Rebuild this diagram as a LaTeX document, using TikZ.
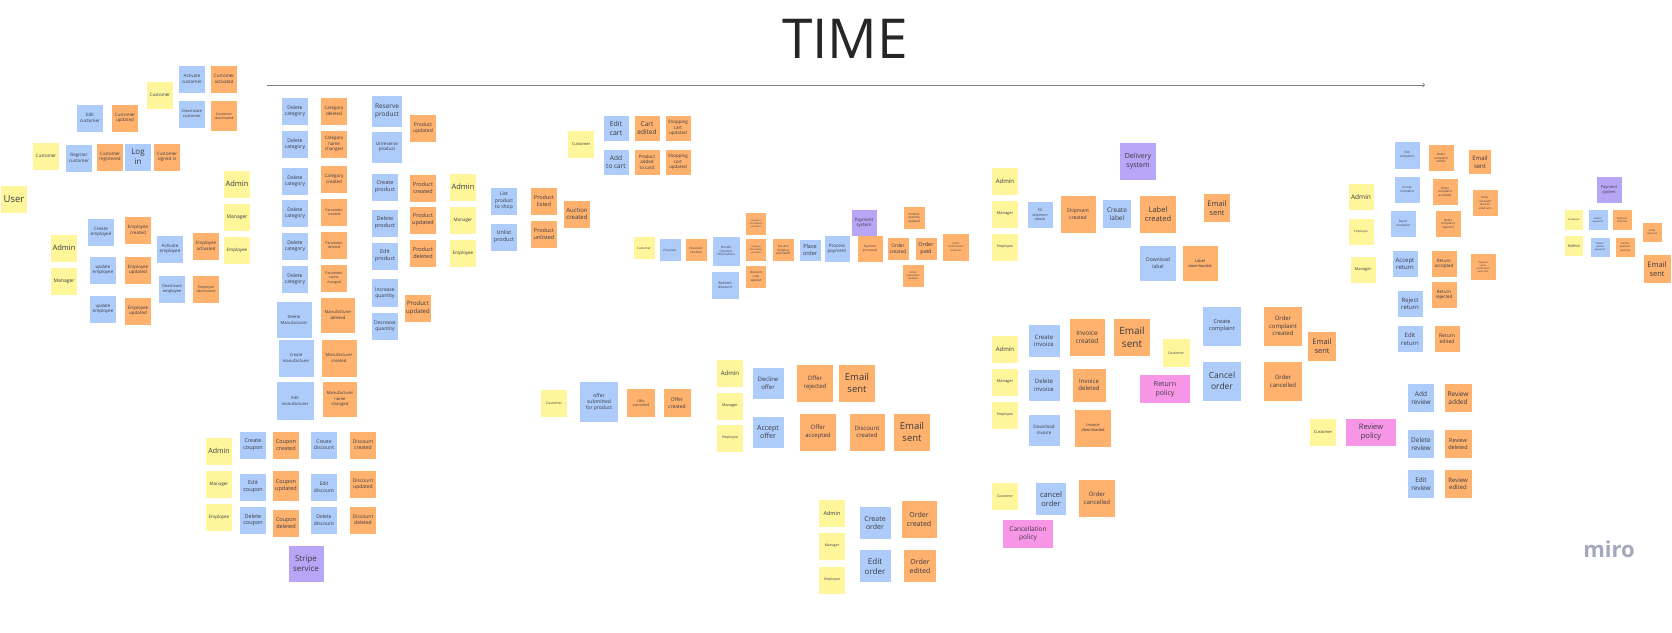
\documentclass[tikz,border=0pt]{standalone}
\usepackage{fontspec}
\setmainfont{Open Sans}
\usepackage{tikz}

\definecolor{noteyellow}{RGB}{255,246,156}
\definecolor{noteblue}{RGB}{174,204,250}
\definecolor{noteorange}{RGB}{255,178,110}
\definecolor{notepurple}{RGB}{182,166,245}
\definecolor{notepink}{RGB}{247,150,230}
\definecolor{noteink}{RGB}{58,58,66}
\definecolor{logogray}{RGB}{164,168,190}

\newcommand{\sz}[1]{\fontsize{#1}{\fpeval{1.25*#1}}\selectfont}

\tikzset{
  sticky/.style={rectangle, minimum width=26pt, minimum height=27pt, inner sep=0.5pt,
    align=center, text=noteink, font=\sz{4.5}},
  wh/.style 2 args={minimum width=#1pt, minimum height=#2pt},
  actor/.style={sticky, fill=noteyellow},
  command/.style={sticky, fill=noteblue},
  event/.style={sticky, fill=noteorange},
  extsystem/.style={sticky, fill=notepurple},
  policy/.style={sticky, fill=notepink},
}

\begin{document}
\begin{tikzpicture}[x=1pt, y=-1pt]
        \useasboundingbox[fill=white] (0,0) rectangle (1672,632);

        \node[text=black!85, font=\sz{55}] (time) at (845,39) {TIME};
        \coordinate (timeStart) at (267,85);
        \coordinate (timeEnd) at (1425,85);
        \draw[->, gray, line width=0.8pt] (timeStart) -- (timeEnd);

        % customers
        \node[actor] (custActorA) at (160,95) {Customer};
        \node[command] (activateCust) at (192,79) {Activate\\customer};
        \node[event] (custActivated) at (224,79) {Customer\\activated};
        \node[command, font=\sz{4}] (deactivateCust) at (192,114) {Deactivate\\customer};
        \node[event, font=\sz{3.5}, wh={26}{30}] (custDeactivated) at (224,116) {Customer\\deactivated};
        \node[command] (editCust) at (90,118) {Edit\\customer};
        \node[event] (custUpdated) at (125,118) {Customer\\updated};
        \node[actor] (custActorB) at (46,156) {Customer};
        \node[command] (registerCust) at (79,158) {Register\\customer};
        \node[event] (custRegistered) at (110,157) {Customer\\registered};
        \node[command, font=\sz{8}] (logIn) at (138,157) {Log\\in};
        \node[event] (custSignedIn) at (167,157) {Customer\\signed in};
        \node[actor, font=\sz{9.5}] (user) at (14,199) {User};

        % employees
        \node[actor, font=\sz{7.5}] (empAdminA) at (237,184) {Admin};
        \node[actor, font=\sz{5}] (empManagerA) at (237,217) {Manager};
        \node[actor] (empEmployeeA) at (237,250) {Employee};
        \node[command] (createEmp) at (101,232) {Create\\employee};
        \node[event] (empCreated) at (138,230) {Employee\\created};
        \node[command] (activateEmp) at (170,249) {Activate\\employee};
        \node[event] (empActivated) at (206,246) {Employee\\activated};
        \node[actor, font=\sz{7.5}] (empAdminB) at (64,248) {Admin};
        \node[actor, font=\sz{5}] (empManagerB) at (64,281) {Manager};
        \node[command] (updateEmpA) at (103,270) {update\\employee};
        \node[event] (empUpdatedA) at (138,270) {Employee\\updated};
        \node[command, font=\sz{4}] (deactivateEmp) at (172,289) {Deactivate\\employee};
        \node[event, font=\sz{3.5}] (empDeactivated) at (206,289) {Employee\\deactivated};
        \node[command] (updateEmpB) at (103,309) {update\\employee};
        \node[event] (empUpdatedB) at (138,311) {Employee\\updated};

        % categories and parameters
        \node[command, font=\sz{5}] (delCatA) at (295,111) {Delete\\category};
        \node[command, font=\sz{5}] (delCatB) at (295,144) {Delete\\category};
        \node[command, font=\sz{5}] (delCatC) at (295,181) {Delete\\category};
        \node[command, font=\sz{5}] (delCatD) at (295,213) {Delete\\category};
        \node[command, font=\sz{5}] (delCatE) at (295,246) {Delete\\category};
        \node[command, font=\sz{5}] (delCatF) at (295,279) {Delete\\category};
        \node[event] (catDeleted) at (334,111) {Category\\deleted};
        \node[event] (catNameChanged) at (334,144) {Category\\name\\changed};
        \node[event] (catCreated) at (334,179) {Category\\created};
        \node[event, font=\sz{3.5}] (paramCreated) at (334,212) {Parameter\\created};
        \node[event, font=\sz{3.5}] (paramDeleted) at (334,245) {Parameter\\deleted};
        \node[event, font=\sz{3.5}] (paramNameChanged) at (334,278) {Parameter\\name\\changed};

        % manufacturers
        \node[command, font=\sz{4.2}, wh={35}{36}] (delManu) at (294,320) {Delete\\Manufacturer};
        \node[event, font=\sz{4.2}, wh={34}{35}] (manuDeleted) at (338,315) {Manufacturer\\deleted};
        \node[command, font=\sz{4.2}, wh={35}{37}] (createManu) at (296,358) {Create\\manufacturer};
        \node[event, font=\sz{4.2}, wh={35}{37}] (manuCreated) at (339,358) {Manufacturer\\created};
        \node[command, font=\sz{4.2}, wh={37}{38}] (editManu) at (295,401) {Edit\\manufacturer};
        \node[event, font=\sz{4.2}, wh={34}{35}] (manuNameChanged) at (340,399) {Manufacturer\\name\\changed};

        % products
        \node[command, font=\sz{6.5}, wh={30}{31}] (reserveProd) at (387,111) {Reserve\\product};
        \node[command, wh={30}{31}] (unreserveProd) at (387,147) {Unreserve\\product};
        \node[event, font=\sz{5}] (prodUpdatedA) at (423,128) {Product\\updated};
        \node[command, font=\sz{5.5}] (createProd) at (385,187) {Create\\product};
        \node[event, font=\sz{5.5}] (prodCreated) at (423,188) {Product\\created};
        \node[command, font=\sz{5.5}] (deleteProd) at (385,223) {Delete\\product};
        \node[event, font=\sz{5.5}] (prodUpdatedB) at (423,220) {Product\\updated};
        \node[command, font=\sz{5.5}] (editProd) at (385,256) {Edit\\product};
        \node[event, font=\sz{5.5}] (prodDeleted) at (423,253) {Product\\deleted};
        \node[command, font=\sz{5}, wh={26}{28}] (increaseQty) at (385,293) {Increase\\quantity};
        \node[event, font=\sz{6}] (prodUpdatedC) at (418,308) {Product\\updated};
        \node[command, font=\sz{5}] (decreaseQty) at (385,326) {Decrease\\quantity};

        % coupons and discounts
        \node[actor, font=\sz{7}] (couponAdmin) at (219,451) {Admin};
        \node[actor] (couponManager) at (219,484) {Manager};
        \node[actor] (couponEmployee) at (219,517) {Employee};
        \node[command, font=\sz{5.5}] (createCoupon) at (253,445) {Create\\coupon};
        \node[event, font=\sz{5.5}] (couponCreated) at (286,445) {Coupon\\created};
        \node[command, font=\sz{5.5}] (editCoupon) at (253,487) {Edit\\coupon};
        \node[event, font=\sz{5.5}, wh={26}{30}] (couponUpdated) at (286,486) {Coupon\\updated};
        \node[command, font=\sz{5.5}] (deleteCoupon) at (253,520) {Delete\\coupon};
        \node[event, font=\sz{5.5}] (couponDeleted) at (286,523) {Coupon\\deleted};
        \node[command, font=\sz{5}] (createDiscount) at (324,445) {Create\\discount};
        \node[event, font=\sz{5}] (discountCreated) at (363,445) {Discount\\created};
        \node[command, font=\sz{5}] (editDiscount) at (324,487) {Edit\\discount};
        \node[event, font=\sz{5}] (discountUpdated) at (363,484) {Discount\\updated};
        \node[command, font=\sz{5}] (deleteDiscount) at (324,520) {Delete\\discount};
        \node[event, font=\sz{5}] (discountDeleted) at (363,520) {Discount\\deleted};
        \node[extsystem, font=\sz{8}, wh={35}{36}] (stripe) at (306,564) {Stripe\\service};

        % shop listing
        \node[actor, font=\sz{7.5}] (shopAdmin) at (463,187) {Admin};
        \node[actor] (shopManager) at (463,220) {Manager};
        \node[actor] (shopEmployee) at (463,253) {Employee};
        \node[command, font=\sz{5}] (listProd) at (504,201) {List\\product\\to shop};
        \node[command, font=\sz{5.5}] (unlistProd) at (504,237) {Unlist\\product};
        \node[event, font=\sz{5.5}] (prodListed) at (544,201) {Product\\listed};
        \node[event, font=\sz{5.5}] (prodUnlisted) at (544,234) {Product\\unlisted};
        \node[event, font=\sz{6}] (auctionCreated) at (577,214) {Auction\\created};

        % cart
        \node[actor, font=\sz{4}] (cartCustomer) at (581,144) {Customer};
        \node[command, font=\sz{7}, wh={25}{25}] (editCart) at (616,128) {Edit\\cart};
        \node[command, font=\sz{6.5}, wh={25}{25}] (addToCart) at (616,162) {Add\\to cart};
        \node[event, font=\sz{6.5}, wh={25}{25}] (cartEdited) at (647,128) {Cart\\edited};
        \node[event, wh={25}{25}] (prodAddedToCard) at (647,162) {Product\\added\\to card};
        \node[event, wh={25}{25}] (cartUpdatedA) at (678,128) {Shopping\\cart\\updated};
        \node[event, wh={25}{25}] (cartUpdatedB) at (678,162) {Shopping\\cart\\updated};

        % checkout and payment
        \node[actor, font=\sz{3}, wh={21}{22}] (checkoutCustomer) at (644,248) {Customer};
        \node[command, font=\sz{3}, wh={21}{22}] (checkout) at (670,250) {Checkout};
        \node[event, font=\sz{3}, wh={21}{22}] (checkoutSelected) at (696,250) {Checkout\\selected};
        \node[command, font=\sz{3}, wh={27}{29}] (provideInfo) at (726,251) {Provide\\checkout\\informations};
        \node[command, font=\sz{3.5}, wh={27}{27}] (redeemDiscount) at (725,285) {Redeem\\discount};
        \node[event, font=\sz{2.3}, wh={20}{22}] (paymentInfo) at (756,224) {Payment\\information\\provided};
        \node[event, font=\sz{2.3}, wh={20}{22}] (shippingInfo) at (756,250) {Shipping\\information\\provided};
        \node[event, font=\sz{3}, wh={20}{22}] (codeApplied) at (756,277) {Discount\\code\\applied};
        \node[event, font=\sz{3}, wh={21}{22}] (taxCalculated) at (783,250) {Tax and\\shipping\\calculated};
        \node[command, font=\sz{5.5}, wh={21}{21}] (placeOrder) at (810,250) {Place\\order};
        \node[command, wh={25}{26}] (processPayment) at (837,249) {Process\\payment};
        \node[extsystem, wh={25}{26}] (paymentSystemA) at (864,223) {Payment\\system};
        \node[event, font=\sz{3}, wh={25}{26}] (paymentProcessed) at (870,249) {Payment\\processed};
        \node[event, font=\sz{4.8}, wh={21}{22}] (orderCreatedA) at (898,249) {Order\\created};
        \node[event, font=\sz{5.5}, wh={21}{22}] (orderPaid) at (926,249) {Order\\paid};
        \node[event, font=\sz{3}, wh={21}{22}] (qtyUpdated) at (914,218) {Product\\quantity\\updated};
        \node[event, font=\sz{2.5}, wh={21}{22}] (orderReserved) at (913,276) {Order\\reservation\\updated};
        \node[event, font=\sz{2.5}] (confirmMail) at (956,247) {Order\\confirmation\\mail sent};

        % offers
        \node[actor, font=\sz{3.5}] (offerCustomer) at (554,403) {Customer};
        \node[command, font=\sz{5}, wh={38}{40}] (submitOffer) at (599,402) {offer\\submitted\\for product};
        \node[event, font=\sz{3.5}, wh={28}{28}] (offeSubmitted) at (641,403) {Offe\\submitted};
        \node[event, font=\sz{5}, wh={27}{28}] (offerCreated) at (677,403) {Offer\\created};
        \node[actor, font=\sz{6}] (offerAdmin) at (730,373) {Admin};
        \node[actor, font=\sz{3.8}] (offerManager) at (730,406) {Manager};
        \node[actor, font=\sz{3.5}] (offerEmployee) at (730,438) {Employee};
        \node[command, font=\sz{6}, wh={31}{31}] (declineOffer) at (768,383) {Decline\\offer};
        \node[event, font=\sz{6}, wh={36}{37}] (offerRejected) at (815,383) {Offer\\rejected};
        \node[event, font=\sz{9.5}, wh={36}{37}] (offerMailA) at (857,383) {Email\\sent};
        \node[command, font=\sz{7}, wh={31}{31}] (acceptOffer) at (768,432) {Accept\\offer};
        \node[event, font=\sz{6}, wh={36}{37}] (offerAccepted) at (818,432) {Offer\\accepted};
        \node[event, font=\sz{6}, wh={35}{37}] (offerDiscount) at (867,432) {Discount\\created};
        \node[event, font=\sz{9.5}, wh={36}{37}] (offerMailB) at (912,432) {Email\\sent};

        % orders by staff
        \node[actor, font=\sz{5.5}] (orderAdmin) at (832,513) {Admin};
        \node[actor, font=\sz{3.5}] (orderManager) at (832,546) {Manager};
        \node[actor, font=\sz{3.5}] (orderEmployee) at (832,580) {Employee};
        \node[command, font=\sz{7}, wh={31}{32}] (createOrder) at (875,523) {Create\\order};
        \node[event, font=\sz{7}, wh={35}{37}] (orderCreatedB) at (919,519) {Order\\created};
        \node[command, font=\sz{8}, wh={31}{32}] (editOrder) at (875,566) {Edit\\order};
        \node[event, font=\sz{7}, wh={32}{32}] (orderEdited) at (920,566) {Order\\edited};

        % shipment
        \node[actor, font=\sz{6}] (shipAdmin) at (1005,181) {Admin};
        \node[actor, font=\sz{4}] (shipManager) at (1005,214) {Manager};
        \node[actor, font=\sz{3.5}] (shipEmployee) at (1005,247) {Employee};
        \node[command, font=\sz{3.5}, wh={25}{26}] (fillShipment) at (1040,215) {Fill\\shipment\\details};
        \node[event, font=\sz{5}, wh={35}{37}] (shipmentCreated) at (1078,214) {Shipment\\created};
        \node[command, font=\sz{6.5}, wh={28}{28}] (createLabel) at (1117,214) {Create\\label};
        \node[extsystem, font=\sz{7}, wh={36}{37}] (deliverySystem) at (1138,161) {Delivery\\system};
        \node[event, font=\sz{7.5}, wh={36}{37}] (labelCreated) at (1158,214) {Label\\created};
        \node[event, font=\sz{7.5}, wh={26}{28}] (labelMail) at (1217,208) {Email\\sent};
        \node[command, font=\sz{5}, wh={36}{35}] (downloadLabel) at (1158,263) {Download\\label};
        \node[event, font=\sz{4}, wh={35}{35}] (labelDownloaded) at (1200,263) {Label\\downloaded};

        % invoices
        \node[actor, font=\sz{6}] (invAdmin) at (1005,349) {Admin};
        \node[actor, font=\sz{4}] (invManager) at (1005,382) {Manager};
        \node[actor, font=\sz{3.5}] (invEmployee) at (1005,415) {Employee};
        \node[command, font=\sz{6}, wh={31}{32}] (createInvoice) at (1044,341) {Create\\invoice};
        \node[event, font=\sz{6.5}, wh={35}{37}] (invoiceCreated) at (1087,337) {Invoice\\created};
        \node[event, font=\sz{10}, wh={36}{37}] (invoiceMail) at (1132,337) {Email\\sent};
        \node[command, font=\sz{6}, wh={31}{31}] (deleteInvoice) at (1044,385) {Delete\\invoice};
        \node[event, font=\sz{6}, wh={33}{33}] (invoiceDeleted) at (1089,385) {Invoice\\deleted};
        \node[command, wh={31}{31}] (downloadInvoice) at (1044,430) {Download\\invoice};
        \node[event, font=\sz{4}, wh={36}{37}] (invoiceDownloaded) at (1093,428) {Invoice\\downloaded};

        % complaints and cancel
        \node[actor, font=\sz{3.5}, wh={27}{28}] (complaintCustomer) at (1176,353) {Customer};
        \node[policy, font=\sz{7}, wh={50}{28}] (returnPolicy) at (1165,389) {Return\\policy};
        \node[command, font=\sz{5.5}, wh={38}{39}] (createComplaint) at (1222,326) {Create\\complaint};
        \node[command, font=\sz{8.5}, wh={38}{39}] (cancelOrderA) at (1222,381) {Cancel\\order};
        \node[event, font=\sz{6}, wh={38}{39}] (complaintCreated) at (1283,326) {Order\\complaint\\created};
        \node[event, font=\sz{7.5}, wh={28}{29}] (complaintMail) at (1322,346) {Email\\sent};
        \node[event, font=\sz{6}, wh={38}{39}] (orderCancelledA) at (1283,381) {Order\\cancelled};
        \node[actor, font=\sz{3.5}] (cancelCustomer) at (1005,496) {Customer};
        \node[command, font=\sz{7.5}, wh={30}{32}] (cancelOrderB) at (1051,499) {cancel\\order};
        \node[event, font=\sz{6}, wh={36}{37}] (orderCancelledB) at (1097,498) {Order\\cancelled};
        \node[policy, font=\sz{6.5}, wh={50}{28}] (cancelPolicy) at (1028,534) {Cancellation\\policy};

        % complaint handling and returns
        \node[actor, font=\sz{6.5}, wh={25}{26}] (retAdmin) at (1361,197) {Admin};
        \node[actor, font=\sz{3}, wh={25}{26}] (retEmployee) at (1361,232) {Employee};
        \node[actor, font=\sz{4}, wh={25}{26}] (retManager) at (1363,270) {Manager};
        \node[command, font=\sz{3}, wh={25}{27}] (editComplaint) at (1407,155) {Edit\\complaint};
        \node[event, font=\sz{3}, wh={25}{26}] (complaintEdited) at (1441,158) {Order\\complaint\\edited};
        \node[event, font=\sz{6}, wh={22}{24}] (complaintMailB) at (1480,162) {Email\\sent};
        \node[command, font=\sz{3}, wh={25}{26}] (acceptComplaint) at (1407,190) {Accept\\complaint};
        \node[event, font=\sz{3}, wh={25}{26}] (complaintAccepted) at (1445,192) {Order\\complaint\\accepted};
        \node[event, font=\sz{2.7}, wh={25}{26}] (decisionMail) at (1485,203) {Order\\complaint\\decision\\email sent};
        \node[command, font=\sz{3}, wh={25}{26}] (rejectComplaint) at (1403,224) {Reject\\complaint};
        \node[event, font=\sz{3}, wh={25}{26}] (complaintRejected) at (1448,224) {Order\\complaint\\rejected};
        \node[command, font=\sz{6}, wh={25}{26}] (acceptReturn) at (1405,264) {Accept\\return};
        \node[event, wh={25}{26}] (returnAccepted) at (1444,264) {Return\\accepted};
        \node[event, font=\sz{2.3}, wh={25}{26}] (returnConfirmMail) at (1483,267) {Payment\\return\\confirmation\\email sent};
        \node[command, font=\sz{6}, wh={25}{26}] (rejectReturn) at (1410,304) {Reject\\return};
        \node[event, wh={25}{26}] (returnRejected) at (1444,295) {Return\\rejected};
        \node[command, font=\sz{6}, wh={25}{26}] (editReturn) at (1410,339) {Edit\\return};
        \node[event, font=\sz{5}, wh={25}{26}] (returnEdited) at (1447,339) {Return\\edited};

        % reviews
        \node[actor, font=\sz{4}] (reviewCustomer) at (1323,432) {Customer};
        \node[policy, font=\sz{7.5}, wh={50}{27}] (reviewPolicy) at (1371,432) {Review\\policy};
        \node[command, font=\sz{6.5}, wh={26}{28}] (addReview) at (1421,398) {Add\\review};
        \node[event, font=\sz{6.5}, wh={27}{28}] (reviewAdded) at (1458,398) {Review\\added};
        \node[command, font=\sz{6.5}, wh={26}{28}] (deleteReview) at (1421,444) {Delete\\review};
        \node[event, font=\sz{5.5}, wh={27}{28}] (reviewDeleted) at (1458,444) {Review\\deleted};
        \node[command, font=\sz{6.5}, wh={26}{28}] (editReview) at (1421,484) {Edit\\review};
        \node[event, font=\sz{6}, wh={27}{28}] (reviewEdited) at (1458,484) {Review\\edited};

        % payment returns
        \node[extsystem, font=\sz{4}, wh={25}{26}] (paymentSystemB) at (1609,190) {Payment\\system};
        \node[actor, font=\sz{2.5}, wh={18}{20}] (payEmployee) at (1574,220) {Employee};
        \node[command, font=\sz{2.5}, wh={19}{20}] (returnPayment) at (1598,220) {Return\\payment};
        \node[event, font=\sz{2.5}, wh={19}{20}] (paymentReturned) at (1622,220) {Payment\\returned};
        \node[event, font=\sz{2.5}, wh={19}{19}] (orderReturned) at (1652,232) {Order\\returned};
        \node[actor, font=\sz{4}, wh={18}{20}] (payAdmin) at (1574,246) {Admin};
        \node[command, font=\sz{2.5}, wh={19}{19}] (returnPartial) at (1600,247) {Return\\partial\\payment};
        \node[event, font=\sz{2.5}, wh={19}{19}] (partialReturned) at (1625,247) {Partial\\payment\\returned};
        \node[event, font=\sz{7.5}, wh={27}{28}] (paymentMail) at (1657,269) {Email\\sent};

        \node[text=logogray, font=\sz{22}\bfseries] (logo) at (1609,549) {miro};
\end{tikzpicture}
\end{document}
